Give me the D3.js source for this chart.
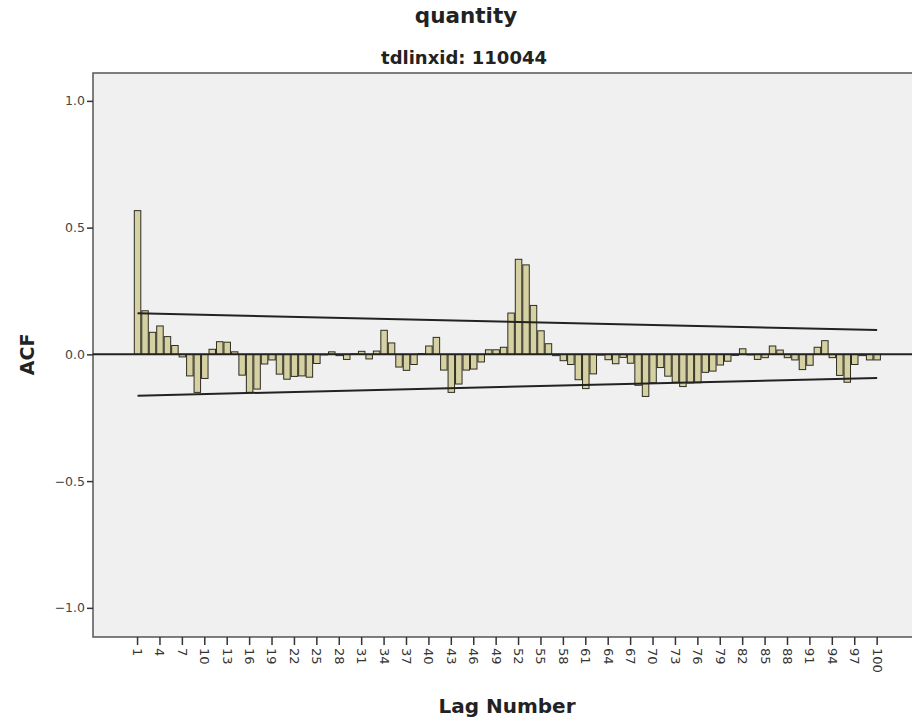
<!DOCTYPE html>
<html>
<head>
<meta charset="utf-8">
<script src="https://cdn.jsdelivr.net/npm/d3@7"></script>
<style>
    body { margin: 0; background: #fff; }
    text { font-family: "DejaVu Sans", sans-serif; }
</style>
</head>
<body>
<div id="acf_chart"></div>
<script>
// ACF plot for quantity

var lags = d3.range(1, 101);
var acf = [
    0.567, 0.172, 0.087, 0.112, 0.070, 0.035, -0.010, -0.085, -0.150, -0.095,
    0.020, 0.050, 0.048, 0.010, -0.082, -0.150, -0.137, -0.038, -0.022, -0.078,
    -0.098, -0.087, -0.085, -0.090, -0.036, -0.002, 0.010, -0.005, -0.020, 0.002,
    0.012, -0.018, 0.013, 0.095, 0.045, -0.050, -0.063, -0.040, 0.003, 0.033,
    0.067, -0.062, -0.150, -0.117, -0.062, -0.058, -0.030, 0.018, 0.018, 0.028,
    0.163, 0.375, 0.353, 0.193, 0.093, 0.042, -0.005, -0.025, -0.040, -0.100,
    -0.135, -0.077, -0.003, -0.021, -0.037, -0.012, -0.035, -0.122, -0.166, -0.112,
    -0.052, -0.086, -0.110, -0.127, -0.113, -0.112, -0.071, -0.066, -0.042, -0.027,
    -0.004, 0.022, -0.002, -0.020, -0.013, 0.033, 0.017, -0.013, -0.022, -0.060,
    -0.043, 0.028, 0.054, -0.013, -0.083, -0.110, -0.040, -0.005, -0.022, -0.022
];
// confidence limits, straight lines from first to last lag
var confLags = [1, 100];
var upperConf = [0.162, 0.096];
var lowerConf = [-0.163, -0.093];

var yTicks = [1.0, 0.5, 0.0, -0.5, -1.0];
var xTickLags = d3.range(1, 101, 3);

var margin = {
    left: 93,
    right: -8,
    top: 73,
    bottom: 82
}

var width = 912 - margin.left - margin.right,
    height = 719 - margin.top - margin.bottom;

var svg = d3.select("#acf_chart")
    .append("svg")
    .attr("width", 912)
    .attr("height", 719);

//scales
var xScale = d3.scaleBand()
    .domain(lags)
    .range([41.3, 787.4])
    .paddingInner(0.13);

var yScale = d3.scaleLinear()
    .domain([-1.115, 1.11])
    .range([height, 0]);

var chartGroup = svg.append("g")
    .attr("transform", "translate(" + margin.left + "," + margin.top + ")");

//plot background
chartGroup.append("rect")
    .attr("width", width)
    .attr("height", height)
    .attr("fill", "#f0f0f0")
    .attr("stroke", "#555")
    .attr("stroke-width", 1.5);

//bars
chartGroup.selectAll(".bar")
    .data(acf)
    .enter()
    .append("rect")
    .attr("class", "bar")
    .attr("x", function (d, i) { return xScale(lags[i]); })
    .attr("width", xScale.bandwidth())
    .attr("y", function (d) { return yScale(Math.max(0, d)); })
    .attr("height", function (d) { return Math.abs(yScale(d) - yScale(0)); })
    .attr("fill", "#d6d1a2")
    .attr("stroke", "#2e2d22")
    .attr("stroke-width", 1);

//zero line
chartGroup.append("line")
    .attr("x1", 0)
    .attr("x2", width)
    .attr("y1", yScale(0))
    .attr("y2", yScale(0))
    .attr("stroke", "#222")
    .attr("stroke-width", 2);

//confidence limit lines
var confLine = d3.line()
    .x(function (d) { return xScale(d[0]) + xScale.bandwidth() / 2; })
    .y(function (d) { return yScale(d[1]); });

chartGroup.append("path")
    .attr("d", confLine(d3.zip(confLags, upperConf)))
    .attr("fill", "none")
    .attr("stroke", "#222")
    .attr("stroke-width", 2);

chartGroup.append("path")
    .attr("d", confLine(d3.zip(confLags, lowerConf)))
    .attr("fill", "none")
    .attr("stroke", "#222")
    .attr("stroke-width", 2);

//axes
var yAxis = d3.axisLeft(yScale)
    .tickValues(yTicks)
    .tickFormat(d3.format(".1f"))
    .tickSize(6)
    .tickSizeOuter(0);

var xAxis = d3.axisBottom(xScale)
    .tickValues(xTickLags)
    .tickSize(8)
    .tickSizeOuter(0);

var gy = chartGroup.append("g")
    .attr("class", "axis y")
    .call(yAxis);

var gx = chartGroup.append("g")
    .attr("class", "axis x")
    .attr("transform", "translate(0," + height + ")")
    .call(xAxis);

gy.select(".domain").remove();
gx.select(".domain").remove();

gy.selectAll("line").attr("stroke", "#333").attr("stroke-width", 1.5);
gx.selectAll("line").attr("stroke", "#333").attr("stroke-width", 1.5);

gy.selectAll("text")
    .attr("font-size", 12.5)
    .attr("font-family", "DejaVu Sans")
    .attr("fill", "#444")
    .attr("x", -8);

gx.selectAll("text")
    .attr("font-size", 13)
    .attr("font-family", "DejaVu Sans")
    .attr("fill", "#333")
    .attr("transform", "rotate(90)")
    .attr("x", 11)
    .attr("y", 0)
    .attr("dy", "0.35em")
    .attr("text-anchor", "start");

//titles
svg.append("text")
    .attr("x", 466)
    .attr("y", 23)
    .attr("text-anchor", "middle")
    .attr("font-size", 21.5)
    .attr("font-weight", "bold")
    .attr("fill", "#222")
    .text("quantity");

svg.append("text")
    .attr("x", 464)
    .attr("y", 64)
    .attr("text-anchor", "middle")
    .attr("font-size", 18)
    .attr("font-weight", "bold")
    .attr("fill", "#222")
    .text("tdlinxid: 110044");

svg.append("text")
    .attr("x", 507)
    .attr("y", 713)
    .attr("text-anchor", "middle")
    .attr("font-size", 20)
    .attr("font-weight", "bold")
    .attr("fill", "#222")
    .text("Lag Number");

svg.append("text")
    .attr("transform", "translate(34," + (margin.top + yScale(0)) + ") rotate(-90)")
    .attr("text-anchor", "middle")
    .attr("font-size", 19)
    .attr("font-weight", "bold")
    .attr("fill", "#222")
    .text("ACF");
</script>
</body>
</html>
